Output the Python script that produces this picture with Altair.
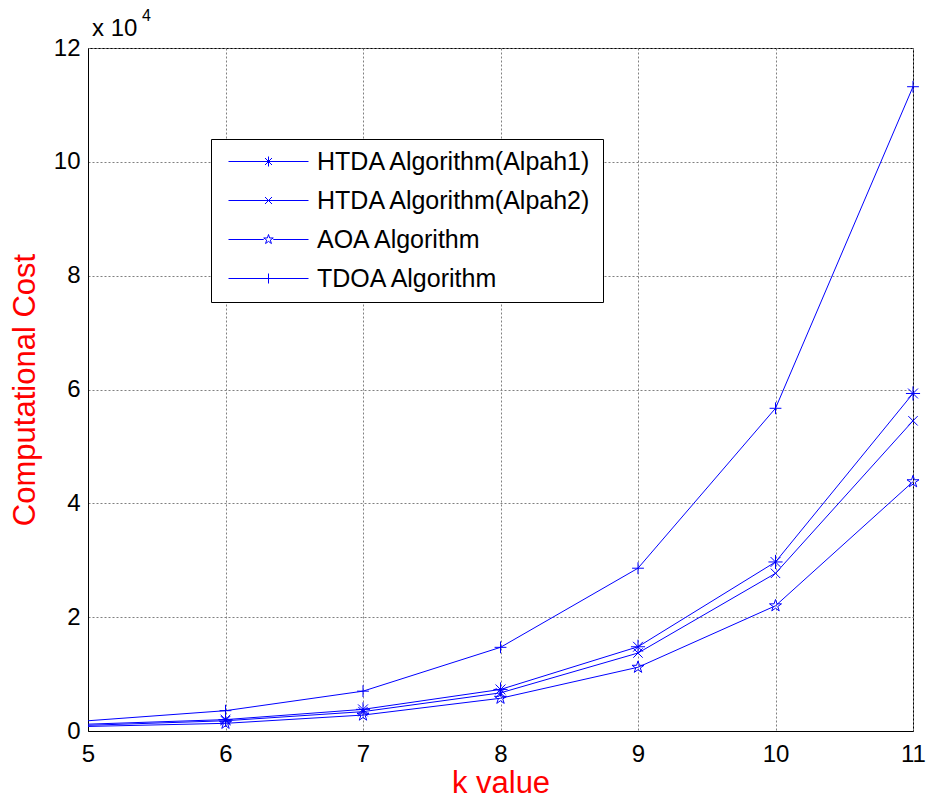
import altair as alt
import pandas as pd

k_values = [5, 6, 7, 8, 9, 10, 11]
htda1 = [1200, 2000, 3800, 7300, 14800, 29700, 59300]
htda2 = [1000, 1800, 3400, 6700, 13700, 27700, 54500]
aoa = [800, 1350, 2800, 5750, 11200, 22000, 43800]
tdoa = [1800, 3570, 7000, 14700, 28600, 56700, 113200]

series_names = [
    "HTDA Algorithm(Alpah1)",
    "HTDA Algorithm(Alpah2)",
    "AOA Algorithm",
    "TDOA Algorithm",
]
series_values = [htda1, htda2, aoa, tdoa]
y_ticks = [0, 20000, 40000, 60000, 80000, 100000, 120000]

rows = []
for name, vals in zip(series_names, series_values):
    for k, v in zip(k_values, vals):
        rows.append({"k": k, "cost": v, "series": name})
df = pd.DataFrame(rows)

BLUE = "#0000ff"
FONT = "Liberation Sans"

STAR = ("M0,-1L0.225,-0.309L0.951,-0.309L0.363,0.118L0.588,0.809L0,0.382"
        "L-0.588,0.809L-0.363,0.118L-0.951,-0.309L-0.225,-0.309Z")
marker_paths = [
    "M-1,0H1M0,-1V1M-0.7,-0.7L0.7,0.7M-0.7,0.7L0.7,-0.7",
    "M-0.7,-0.7L0.7,0.7M-0.7,0.7L0.7,-0.7",
    STAR,
    "M-1,0H1M0,-1V1",
]
marker_sizes = [200, 140, 220, 420]
legend_paths = [
    "M-8,0H8M0,-1V1M-0.7,-0.7L0.7,0.7M-0.7,0.7L0.7,-0.7",
    "M-8,0H8M-0.7,-0.7L0.7,0.7M-0.7,0.7L0.7,-0.7",
    "M-8,0H-0.951M0.951,0H8M" + STAR[1:],
    "M-8,0H8M0,-1V1",
]

x_enc = alt.X(
    "k:Q",
    scale=alt.Scale(domain=[5, 11], nice=False, zero=False),
    axis=alt.Axis(
        values=k_values, title="k value", format="d",
        labelPadding=11, titlePadding=2,
    ),
)
y_enc = alt.Y(
    "cost:Q",
    scale=alt.Scale(domain=[0, 120000], nice=False),
    axis=alt.Axis(
        values=y_ticks, title="Computational Cost",
        labelExpr="datum.value / 10000", labelPadding=8, titlePadding=12,
    ),
)

base = alt.Chart(df)

lines = base.mark_line(color=BLUE, strokeWidth=1, clip=False).encode(
    x=x_enc, y=y_enc, detail="series:N"
)

points = base.transform_filter("datum.k >= 6").mark_point(
    filled=False, color=BLUE, strokeWidth=1, opacity=1, clip=False
).encode(
    x=x_enc,
    y=y_enc,
    shape=alt.Shape("series:N", scale=alt.Scale(domain=series_names, range=marker_paths), legend=None),
    size=alt.Size("series:N", scale=alt.Scale(domain=series_names, range=marker_sizes), legend=None),
)

legend_layer = base.transform_filter("datum.k > 100").mark_point(
    filled=False, color=BLUE, strokeWidth=1, opacity=1
).encode(
    x=x_enc,
    y=y_enc,
    shape=alt.Shape(
        "series:N",
        scale=alt.Scale(domain=series_names, range=legend_paths),
        sort=series_names,
        legend=alt.Legend(
            title=None, orient="none", legendX=123, legendY=91,
            fillColor="white", strokeColor="black", padding=10,
            labelFont=FONT, labelFontSize=25, labelColor="black", labelLimit=500,
            symbolSize=100, symbolStrokeWidth=1, symbolStrokeColor=BLUE,
            symbolOffset=35, labelOffset=36, rowPadding=13,
        ),
    ),
)

exp_text = alt.Chart(pd.DataFrame({"t": ["x 10"]})).mark_text(
    align="left", baseline="alphabetic", font=FONT, fontSize=24, color="black"
).encode(x=alt.value(4), y=alt.value(-12), text="t:N")

exp_sup = alt.Chart(pd.DataFrame({"t": ["4"]})).mark_text(
    align="left", baseline="alphabetic", font=FONT, fontSize=16, color="black"
).encode(x=alt.value(54), y=alt.value(-27), text="t:N")

chart = alt.layer(lines, points, legend_layer, exp_text, exp_sup).resolve_scale(
    shape="independent", size="independent"
).properties(
    width=825, height=683,
    background="white",
    autosize=alt.AutoSizeParams(type="none"),
    padding={"left": 80, "top": 40, "right": 13, "bottom": 70},
).configure_view(
    stroke="black", strokeWidth=1
).configure_axis(
    labelFont=FONT, labelFontSize=24, labelColor="black",
    titleFont=FONT, titleFontSize=31, titleColor="#ff0000", titleFontWeight="normal",
    domainColor="black", domainWidth=1, ticks=False,
    grid=True, gridColor="#808080", gridDash=[2, 2], gridWidth=1, gridOpacity=1,
    labelFlush=False,
)

chart.save("out.html", embed_options={"renderer": "svg", "actions": False})
